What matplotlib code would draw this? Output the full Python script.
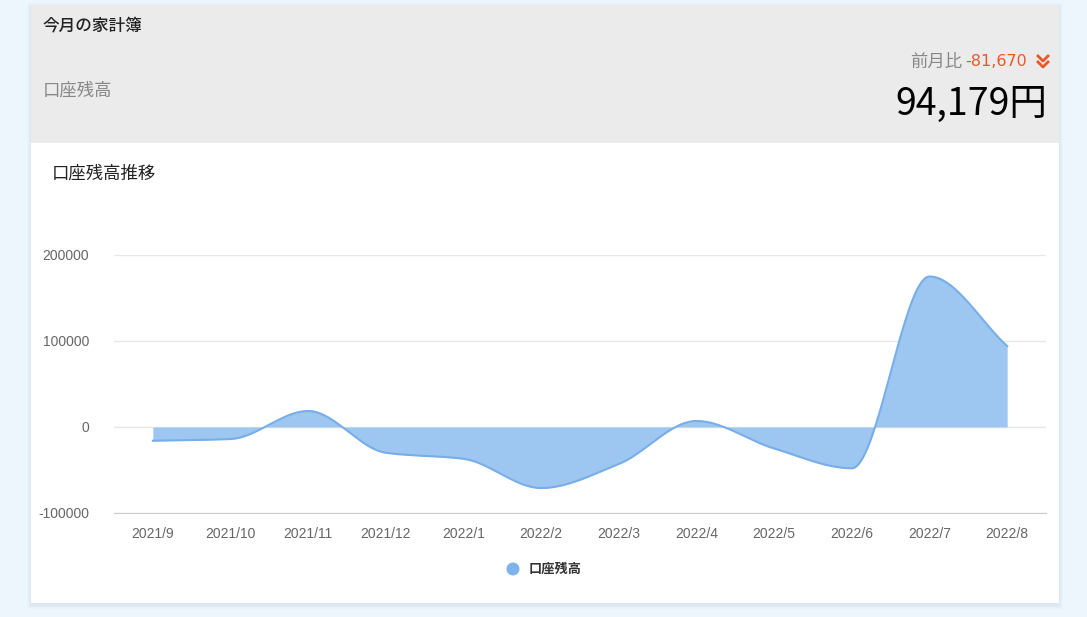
import numpy as np
import matplotlib.pyplot as plt
from matplotlib.patches import Rectangle, Circle

plt.rcParams['font.family'] = ['Noto Sans CJK JP', 'DejaVu Sans']

months = ["2021/9", "2021/10", "2021/11", "2021/12", "2022/1", "2022/2",
          "2022/3", "2022/4", "2022/5", "2022/6", "2022/7", "2022/8"]
balance = [-16000, -14000, 18600, -30000, -37000, -71000,
           -43000, 7000, -25000, -48000, 175000, 94179]
yticks = [-100000, 0, 100000, 200000]

W, H = 1087, 617
fig = plt.figure(figsize=(W / 100, H / 100), dpi=100)
fig.patch.set_facecolor('#eef6fd')

# card background in pixel coords
bg = fig.add_axes([0, 0, 1, 1])
bg.set_xlim(0, W); bg.set_ylim(H, 0); bg.axis('off')
for i, a in enumerate([0.03, 0.03, 0.04, 0.05]):
    d = 4 - i
    bg.add_patch(Rectangle((31 - d, 5 - d + 2), 1028 + 2 * d, 598 + 2 * d, color='#8899aa', alpha=a, lw=0))
bg.add_patch(Rectangle((31, 5), 1028, 598, color='white', lw=0))
bg.add_patch(Rectangle((31, 5), 1028, 138, color='#ebebeb', lw=0))
bg.text(42, 26, "今月の家計簿", fontsize=12, color='#222222', va='center', fontweight='medium')
bg.text(43, 91, "口座残高", fontsize=12.5, color='#888888', va='center')
num = bg.text(1027, 62, "-81,670", fontsize=11.5, color='#e8572a', va='center', ha='right',
              family=['Liberation Sans Narrow', 'DejaVu Sans'])
bg.text(962, 62, "前月比", fontsize=12.5, color='#888888', va='center', ha='right')
for yy in (56, 62):
    bg.plot([1038, 1043, 1048], [yy, yy + 5, yy], color='#e8572a', lw=2)
bg.text(1047, 104, "94,179円", fontsize=27, color='black', va='center', ha='right',
        family=['Liberation Sans Narrow', 'Noto Sans CJK JP'])
bg.text(52, 174, "口座残高推移", fontsize=12.5, color='#222222', va='center')
bg.add_patch(Circle((513, 569), 6.5, color='#7eb3ec', lw=0))
bg.text(529, 569, "口座残高", fontsize=9.5, color='#333333', va='center', fontweight='bold')

# chart axes
x0, x1 = 114, 1046
ytop, ybot = 255, 513
ax = fig.add_axes([x0 / W, 1 - ybot / H, (x1 - x0) / W, (ybot - ytop) / H])
ax.set_facecolor('none')
ax.set_xlim(-0.5, len(months) - 0.5)
ax.set_ylim(-100000, 200000)

# smooth monotone cubic curve through the points
xs = np.arange(len(months), dtype=float)
ys = np.array(balance, dtype=float)
d = np.diff(ys)
m = np.zeros_like(ys)
for i in range(1, len(ys) - 1):
    if d[i - 1] * d[i] > 0:
        m[i] = 2 / (1 / d[i - 1] + 1 / d[i])
m[0], m[-1] = d[0], d[-1]
cx, cy = [], []
for i in range(len(ys) - 1):
    t = np.linspace(0, 1, 40)
    h00 = 2 * t**3 - 3 * t**2 + 1; h10 = t**3 - 2 * t**2 + t
    h01 = -2 * t**3 + 3 * t**2; h11 = t**3 - t**2
    cx.extend(xs[i] + t)
    cy.extend(h00 * ys[i] + h10 * m[i] + h01 * ys[i + 1] + h11 * m[i + 1])
ax.fill_between(cx, cy, 0, color='#9dc6f0', lw=0)
ax.plot(cx, cy, color='#78aee8', lw=1.5)

ax.set_yticks(yticks)
ax.set_yticklabels([str(v) for v in yticks], family='Liberation Sans')
ax.set_xticks(xs)
ax.set_xticklabels(months, family='Liberation Sans')
ax.grid(axis='y', color='#e6e6e6', lw=1)
ax.set_axisbelow(True)
for s in ['top', 'right', 'left']:
    ax.spines[s].set_visible(False)
ax.spines['bottom'].set_color('#cccccc')
ax.tick_params(axis='both', length=0, labelsize=10, colors='#666666', pad=10)
ax.tick_params(axis='y', pad=18)

fig.savefig('out.png', dpi=100, facecolor=fig.get_facecolor())
